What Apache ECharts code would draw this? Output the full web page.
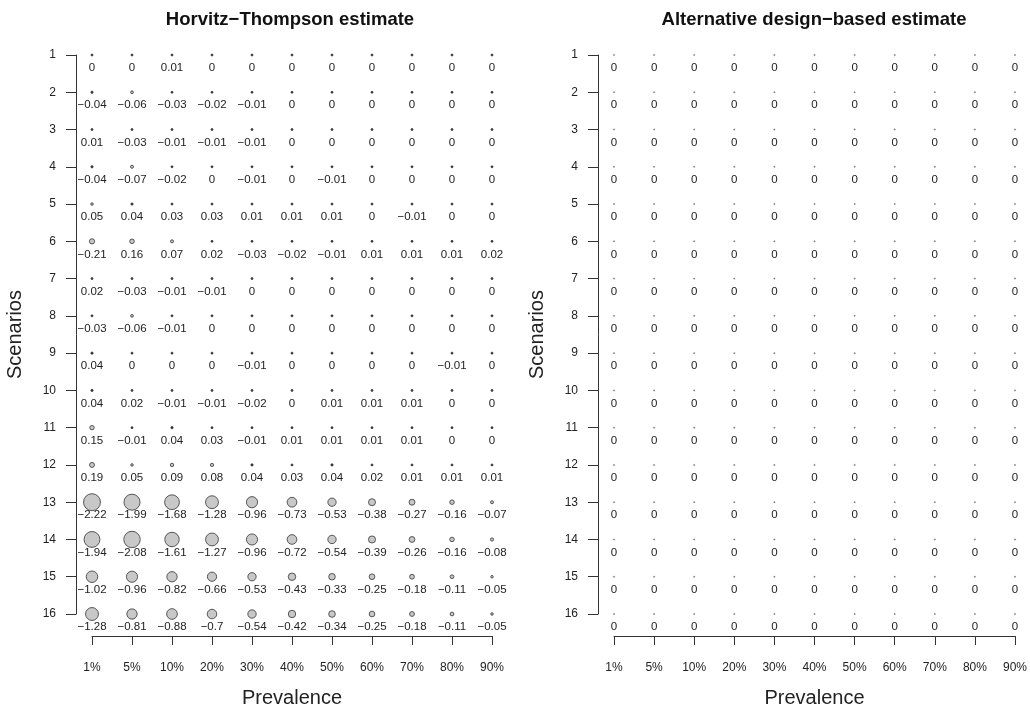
<!DOCTYPE html>
<html><head><meta charset="utf-8">
<script src="https://cdn.jsdelivr.net/npm/echarts@6/dist/echarts.min.js"></script>
<style>html,body{margin:0;padding:0;background:#fff}#c{width:1030px;height:711px}</style>
</head><body><div id="c"></div>
<script>
const prevalence = ['1%','5%','10%','20%','30%','40%','50%','60%','70%','80%','90%'];
const scenarios = [1,2,3,4,5,6,7,8,9,10,11,12,13,14,15,16];
const htEstimates = [
  [0, 0, 0.01, 0, 0, 0, 0, 0, 0, 0, 0],
  [-0.04, -0.06, -0.03, -0.02, -0.01, 0, 0, 0, 0, 0, 0],
  [0.01, -0.03, -0.01, -0.01, -0.01, 0, 0, 0, 0, 0, 0],
  [-0.04, -0.07, -0.02, 0, -0.01, 0, -0.01, 0, 0, 0, 0],
  [0.05, 0.04, 0.03, 0.03, 0.01, 0.01, 0.01, 0, -0.01, 0, 0],
  [-0.21, 0.16, 0.07, 0.02, -0.03, -0.02, -0.01, 0.01, 0.01, 0.01, 0.02],
  [0.02, -0.03, -0.01, -0.01, 0, 0, 0, 0, 0, 0, 0],
  [-0.03, -0.06, -0.01, 0, 0, 0, 0, 0, 0, 0, 0],
  [0.04, 0, 0, 0, -0.01, 0, 0, 0, 0, -0.01, 0],
  [0.04, 0.02, -0.01, -0.01, -0.02, 0, 0.01, 0.01, 0.01, 0, 0],
  [0.15, -0.01, 0.04, 0.03, -0.01, 0.01, 0.01, 0.01, 0.01, 0, 0],
  [0.19, 0.05, 0.09, 0.08, 0.04, 0.03, 0.04, 0.02, 0.01, 0.01, 0.01],
  [-2.22, -1.99, -1.68, -1.28, -0.96, -0.73, -0.53, -0.38, -0.27, -0.16, -0.07],
  [-1.94, -2.08, -1.61, -1.27, -0.96, -0.72, -0.54, -0.39, -0.26, -0.16, -0.08],
  [-1.02, -0.96, -0.82, -0.66, -0.53, -0.43, -0.33, -0.25, -0.18, -0.11, -0.05],
  [-1.28, -0.81, -0.88, -0.7, -0.54, -0.42, -0.34, -0.25, -0.18, -0.11, -0.05]
];
const altEstimates = scenarios.map(() => [0,0,0,0,0,0,0,0,0,0,0]);
const titles = ['Horvitz\u2212Thompson estimate', 'Alternative design\u2212based estimate'];

const FONT = '"Liberation Sans", Arial, Helvetica, sans-serif';
const grids = [
  {left: 92, top: 55, width: 400, height: 559, outerBoundsMode: 'none'},
  {left: 614, top: 55, width: 401, height: 559, outerBoundsMode: 'none'}
];
const titleCenters = [285, 809];
function toPoints(mat){
  const pts = [];
  mat.forEach((row, r) => row.forEach((v, c) => pts.push([c, scenarios[r], v])));
  return pts;
}
function fmt(v){ return String(v).replace('-', '\u2212'); }

const option = {
  backgroundColor: '#fff',
  animation: false,
  title: titles.map((t, i) => ({
    text: t, left: titleCenters[i], top: 5, textAlign: 'center',
    textStyle: {fontFamily: FONT, fontSize: 18.5, fontWeight: 'bold', color: '#111'}
  })),
  grid: grids,
  xAxis: grids.map((g, i) => ({
    type: 'value', gridIndex: i, min: 0, max: 10, interval: 1, offset: 22,
    name: 'Prevalence', nameLocation: 'middle', nameGap: 52,
    nameTextStyle: {fontFamily: FONT, fontSize: 20, color: '#222'},
    axisLine: {show: true, onZero: false, lineStyle: {color: '#333', width: 1}},
    axisTick: {show: true, length: 9, lineStyle: {color: '#333'}},
    axisLabel: {fontFamily: FONT, fontSize: 12, color: '#222', margin: 26,
      formatter: v => prevalence[v] || ''},
    splitLine: {show: false}
  })),
  yAxis: grids.map((g, i) => ({
    type: 'value', gridIndex: i, min: 1, max: 16, interval: 1, inverse: true, offset: 16,
    name: 'Scenarios', nameLocation: 'middle', nameGap: 51,
    nameTextStyle: {fontFamily: FONT, fontSize: 20, color: '#222'},
    axisLine: {show: true, onZero: false, lineStyle: {color: '#333', width: 1}},
    axisTick: {show: true, length: 10, lineStyle: {color: '#333'}},
    axisLabel: {fontFamily: FONT, fontSize: 12, color: '#222', margin: 20},
    splitLine: {show: false}
  })),
  series: [htEstimates, altEstimates].map((mat, i) => ({
    type: 'scatter', xAxisIndex: i, yAxisIndex: i,
    data: toPoints(mat),
    symbol: 'circle',
    symbolSize: d => Math.max(i === 0 ? 2 : 1.5, 11.4 * Math.sqrt(Math.abs(d[2]))),
    itemStyle: {
      color: p => Math.abs(p.value[2]) < 0.05 ? (i === 0 ? '#333' : '#777') : '#c8c8c8',
      borderColor: i === 0 ? '#333' : '#777', borderWidth: i === 0 ? 0.8 : 0.3, opacity: 1
    },
    label: {
      show: true, position: 'inside', offset: [0, 13],
      formatter: p => fmt(p.value[2]),
      fontFamily: FONT, fontSize: 11.5, color: '#222'
    },
    emphasis: {disabled: true}
  }))
};
const chart = echarts.init(document.getElementById('c'), null, {renderer: 'canvas'});
chart.setOption(option);
</script></body></html>
